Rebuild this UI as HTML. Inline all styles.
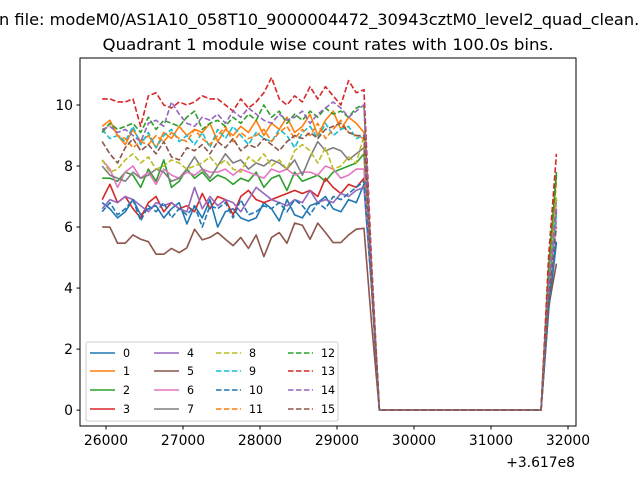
<!DOCTYPE html>
<html><head><meta charset="utf-8"><style>
body{margin:0;background:#fff;}
svg{display:block;font-family:"DejaVu Sans","Liberation Sans",sans-serif;}
</style></head><body>
<svg id="c" width="640" height="480" viewBox="0 0 640 480" xmlns="http://www.w3.org/2000/svg">
<text x="-1" y="25" font-size="16.2" fill="#000">n file: modeM0/AS1A10_058T10_9000004472_30943cztM0_level2_quad_clean.evt</text>
<text x="328" y="50" font-size="16" text-anchor="middle" textLength="451" lengthAdjust="spacingAndGlyphs" fill="#000">Quadrant 1 module wise count rates with 100.0s bins.</text>
<g id="marks"></g>
<rect x="80" y="58" width="496" height="368" fill="none" stroke="#000" stroke-width="1"/>
<g id="axes"></g>
<text x="575" y="467" font-size="13.9" text-anchor="end" fill="#000">+3.617e8</text>
<g id="legend"></g>
</svg>
<script>
const colors=["#1f77b4","#ff7f0e","#2ca02c","#d62728","#9467bd","#8c564b","#e377c2","#7f7f7f","#bcbd22","#17becf","#1f77b4","#ff7f0e","#2ca02c","#d62728","#9467bd","#8c564b"];
const labels=["0","1","2","3","4","5","6","7","8","9","10","11","12","13","14","15"];
const yTicks=[0,2,4,6,8,10];
const xTicks=[26000,27000,28000,29000,30000,31000,32000];
const ZEROS=[0,0,0,0,0,0,0,0,0,0,0,0,0,0,0,0,0,0,0,0,0,0];
const s0=[6.8,6.6,6.3,6.5,6.9,6.4,6.6,6.7,6.3,6.6,6.8,6.1,6.7,6.3,6.9,6.0,6.5,6.6,6.3,6.2,6.3,6.8,6.6,6.2,6.9,6.4,6.3,6.7,6.8,7.0,6.6,6.5,6.9,6.8,7.4, 4.0,...ZEROS,3.3,5.5];
const s1=[9.3,9.5,9.0,8.7,9.2,8.8,9.0,8.6,9.1,8.9,9.3,9.0,9.2,9.1,9.4,8.8,9.2,9.0,9.3,9.1,9.5,9.0,9.4,9.2,9.6,9.1,9.3,9.7,9.0,9.5,9.8,9.2,9.6,9.4,9.1, 4.3,...ZEROS,4.6,7.7];
const s2=[7.6,7.6,7.5,7.8,7.7,7.3,7.9,7.5,8.2,7.3,7.5,7.9,7.6,7.8,7.5,7.7,7.6,7.4,7.6,7.5,7.8,7.3,7.6,7.7,7.2,7.8,7.5,7.6,7.7,7.5,7.8,7.9,8.0,8.1,8.4, 4.2,...ZEROS,4.7,7.8];
const s3=[6.9,7.4,6.8,7.0,6.6,6.3,6.8,7.0,6.5,6.8,6.6,6.7,6.5,7.1,6.6,7.0,6.9,6.4,7.0,7.2,6.9,6.8,6.9,7.0,7.1,7.2,7.1,7.2,7.0,7.6,7.3,7.1,7.4,7.3,7.6, 4.0,...ZEROS,3.9,6.5];
const s4=[6.6,6.9,6.8,7.0,6.9,6.7,6.5,6.8,6.7,6.8,6.6,6.5,7.3,6.6,7.0,6.7,6.9,6.8,6.5,6.9,7.3,7.1,6.9,6.8,6.7,6.9,6.8,7.2,6.8,6.9,6.8,7.1,7.0,7.2,7.3, 4.0,...ZEROS,4.0,6.6];
const s5=[6.0,6.0,5.47,5.47,5.74,5.6,5.52,5.11,5.11,5.3,5.16,5.32,5.93,5.58,5.66,5.82,5.6,5.39,5.66,5.3,5.74,5.03,5.66,5.82,5.47,6.13,6.06,5.6,6.13,5.82,5.49,5.49,5.74,5.93,5.96, 2.8,...ZEROS,3.4,4.8];
const s6=[8.2,7.9,7.3,7.8,8.0,7.6,7.8,7.4,7.9,7.7,7.6,7.8,7.7,7.9,7.8,7.8,7.9,7.7,7.9,7.8,7.7,7.6,7.9,7.8,7.9,7.7,7.8,7.8,7.7,8.0,7.9,7.6,7.7,7.9,7.9, 4.1,...ZEROS,3.8,6.2];
const s7=[8.0,7.7,7.6,7.5,7.8,7.6,7.7,7.9,7.8,7.5,7.6,7.9,8.3,7.9,7.6,8.0,8.4,8.1,8.2,7.9,8.1,8.0,8.2,8.1,7.9,8.2,7.7,8.3,8.8,8.5,8.6,8.5,8.2,8.4,8.6, 4.2,...ZEROS,4.2,6.9];
const s8=[8.2,7.8,7.9,8.2,8.4,8.1,8.3,7.9,8.0,8.2,8.1,7.9,8.0,8.1,8.3,8.0,8.2,7.9,7.8,8.3,8.1,8.4,8.0,8.2,7.9,8.5,8.7,8.5,8.1,8.6,7.9,8.0,8.3,8.1,9.0, 4.3,...ZEROS,4.3,7.0];
const s9=[9.2,8.9,9.0,8.8,9.3,8.7,9.1,8.6,9.0,9.2,8.8,9.0,8.7,9.1,8.6,9.2,8.9,9.3,9.0,8.7,9.1,8.9,8.8,9.2,9.0,8.6,9.1,9.3,8.9,9.4,9.0,9.2,9.3,8.9,9.0, 4.3,...ZEROS,3.9,6.4];
const s10=[6.5,6.8,6.4,6.6,6.9,6.2,6.7,6.5,6.8,6.3,6.6,6.4,6.7,6.0,6.7,6.6,6.8,6.3,6.9,6.4,6.5,6.7,6.6,6.8,6.5,6.9,6.7,6.4,6.8,6.6,7.0,6.9,7.1,7.3,7.5, 4.0,...ZEROS,3.4,5.6];
const s11=[9.1,9.4,9.0,8.9,8.6,8.8,8.7,9.0,8.8,9.1,8.9,8.8,9.2,8.9,8.7,9.0,9.3,8.8,9.1,8.9,9.0,9.2,8.8,9.1,9.3,8.9,9.2,9.0,9.4,8.9,9.2,9.5,9.1,9.0,8.9, 4.3,...ZEROS,4.6,7.5];
const s12=[9.1,9.4,9.2,9.3,9.4,9.1,9.6,9.2,9.5,9.4,9.3,9.6,9.8,9.2,9.4,9.5,9.3,9.6,9.4,9.7,9.5,10.0,9.6,9.8,9.4,9.7,9.5,9.8,9.6,9.9,9.7,9.8,9.6,9.9,10.0, 4.5,...ZEROS,4.7,7.7];
const s13=[10.2,10.2,10.1,10.1,10.2,9.3,10.3,10.4,10.0,9.9,10.1,10.0,10.1,10.3,10.2,10.2,10.0,9.8,10.2,9.9,10.1,10.4,10.9,10.2,10.0,10.3,10.1,10.6,10.2,10.6,10.3,10.0,10.8,10.4,10.5, 4.8,...ZEROS,5.1,8.4];
const s14=[9.2,9.3,9.1,9.2,9.0,8.8,9.4,9.5,9.3,10.1,9.7,9.4,9.3,9.6,9.5,9.7,9.4,9.8,9.6,9.9,9.7,9.5,9.4,9.7,9.5,9.6,9.8,9.4,9.7,9.9,10.1,9.9,9.6,9.8,10.0, 4.5,...ZEROS,4.1,6.7];
const s15=[8.8,8.4,8.1,8.6,8.9,8.5,8.7,8.4,8.8,8.3,8.2,8.6,8.5,8.7,8.4,8.8,8.6,8.9,8.5,8.7,8.6,8.9,8.7,8.5,8.8,9.0,8.9,9.1,8.9,9.2,9.3,9.4,9.1,9.0,9.0, 4.2,...ZEROS,3.7,6.0];
const series=[s0,s1,s2,s3,s4,s5,s6,s7,s8,s9,s10,s11,s12,s13,s14,s15];
const t0=25950, dt=100;

const L=80,R=576,T=58,B=426, xmin=25662,xmax=32104,ymin=-0.52,ymax=11.54;
const X=v=>L+(v-xmin)/(xmax-xmin)*(R-L);
const Y=v=>B-(v-ymin)/(ymax-ymin)*(B-T);
const NS="http://www.w3.org/2000/svg";
function mk(tag,attrs,parent){const e=document.createElementNS(NS,tag);for(const k in attrs)e.setAttribute(k,attrs[k]);parent.appendChild(e);return e;}
const marks=document.getElementById('marks'),axes=document.getElementById('axes'),leg=document.getElementById('legend');
series.forEach((s,i)=>{
  const d=s.map((v,j)=>(j?'L':'M')+X(t0+dt*j).toFixed(2)+' '+Y(v).toFixed(2)).join(' ');
  const p=mk('path',{d:d,fill:'none',stroke:colors[i],'stroke-width':1.6,'stroke-linejoin':'round'},marks);
  if(i>=8)p.setAttribute('stroke-dasharray','5.55 2.4');
  
  
});
yTicks.forEach(v=>{
  const l=mk('line',{x1:L-3.5,x2:L,y1:Y(v),y2:Y(v),stroke:'#000'},axes);
  
  
  const t=mk('text',{x:L-7,y:Y(v)+5,'font-size':13.9,'text-anchor':'end'},axes);t.textContent=v;
  
  
});
xTicks.forEach(v=>{
  const l=mk('line',{x1:X(v),x2:X(v),y1:B,y2:B+3.5,stroke:'#000'},axes);
  
  
  const t=mk('text',{x:X(v),y:B+19,'font-size':13.9,'text-anchor':'middle'},axes);t.textContent=v;
  
  
});
const box=mk('rect',{x:86,y:342,width:252,height:79,rx:2,fill:'#fff','fill-opacity':0.8,stroke:'#ccc'},leg);


const colX=[90,154,216,288],rowY=[353,371,390,409];
labels.forEach((lab,i)=>{
  const cx=colX[Math.floor(i/4)],cy=rowY[i%4];
  const g=mk('g',{},leg);
  
  
  const l=mk('line',{x1:cx,x2:cx+25,y1:cy,y2:cy,stroke:colors[i],'stroke-width':1.5},g);
  if(i>=8)l.setAttribute('stroke-dasharray','5.55 2.4');
  const t=mk('text',{x:cx+33,y:cy+4,'font-size':11.1},g);t.textContent=lab;
});
</script>
</body></html>
